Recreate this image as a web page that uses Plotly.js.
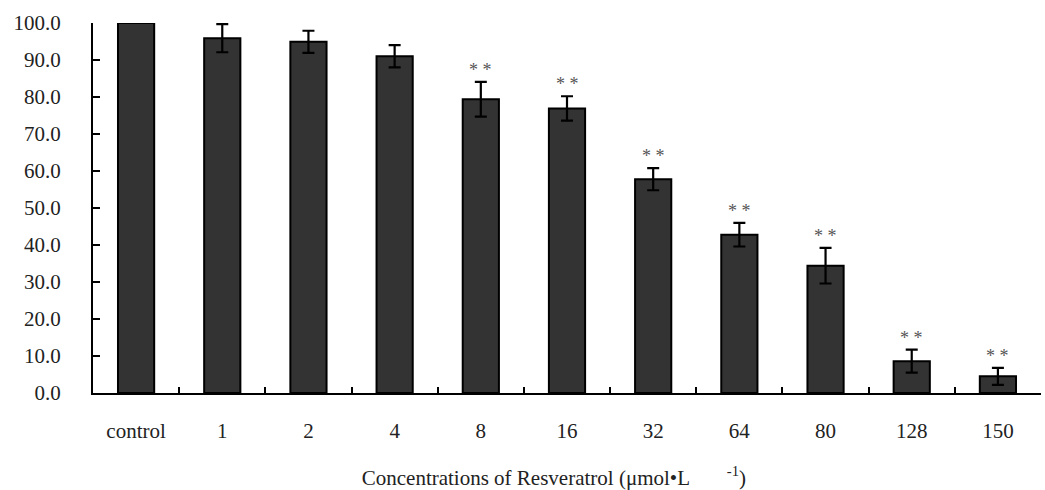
<!DOCTYPE html>
<html>
<head>
<meta charset="utf-8">
<script src="https://cdn.plot.ly/plotly-3.0.1.min.js"></script>
<style>html,body{margin:0;padding:0;background:#fff;}</style>
</head>
<body>
<div id="chart" style="width:1045px;height:490px;"></div>
<script>
const categories = ["control","1","2","4","8","16","32","64","80","128","150"];
const values = [100.0, 95.9, 94.9, 91.0, 79.4, 76.9, 57.8, 42.8, 34.4, 8.6, 4.5];
const errors = [0, 3.8, 3.0, 3.0, 4.7, 3.3, 3.0, 3.2, 4.8, 3.1, 2.3];
const significance = ["", "", "", "", "**", "**", "**", "**", "**", "**", "**"];
const yTicks = [0,10,20,30,40,50,60,70,80,90,100];

const font = "'Liberation Serif', 'Times New Roman', serif";

const annotations = [];
categories.forEach((c, i) => {
  if (significance[i]) {
    annotations.push({
      x: i, y: values[i] + errors[i], xref: 'x', yref: 'y',
      text: significance[i].split('').join('&nbsp;'), showarrow: false,
      yanchor: 'bottom', yshift: 0,
      font: {family: font, size: 18, color: '#555555'}
    });
  }
});

const trace = {
  type: 'bar', x: categories, y: values,
  marker: {color: '#333333', line: {color: '#000000', width: 2}},
  error_y: {type: 'data', array: errors, visible: true, color: '#000000', thickness: 2.2, width: 6},
  cliponaxis: false, hoverinfo: 'none'
};

const layout = {
  width: 1045, height: 490,
  margin: {l: 93, r: 4, t: 23, b: 97},
  paper_bgcolor: '#ffffff', plot_bgcolor: '#ffffff',
  bargap: 0.58,
  showlegend: false,
  font: {family: font, color: '#222222', size: 21},
  xaxis: {
    type: 'category',
    range: [-0.5, categories.length - 0.5],
    tickangle: 0,
    showline: true, linecolor: '#000000', linewidth: 2,
    ticks: 'inside', tickson: 'boundaries', ticklen: 6, tickwidth: 2, tickcolor: '#000000',
    showgrid: false, zeroline: false,
    tickfont: {family: font, size: 21, color: '#222222'},
    ticklabelstandoff: 18,
    title: {text: "Concentrations of Resveratrol (μmol•L&nbsp;&nbsp;&nbsp;&nbsp;&nbsp;&nbsp;&nbsp;<sup>-1</sup>)&nbsp;&nbsp;&nbsp;&nbsp;&nbsp;", font: {family: font, size: 21, color: '#222222'}, standoff: 28}
  },
  yaxis: {
    range: [0, 100], tickvals: yTicks, tickformat: '.1f',
    showline: true, linecolor: '#000000', linewidth: 2,
    ticks: 'inside', ticklen: 7, tickwidth: 2, tickcolor: '#000000',
    showgrid: false, zeroline: false,
    tickfont: {family: font, size: 21, color: '#222222'},
    ticklabelstandoff: 26
  },
  annotations: annotations
};

Plotly.newPlot('chart', [trace], layout, {displayModeBar: false, staticPlot: true});
</script>
</body>
</html>
